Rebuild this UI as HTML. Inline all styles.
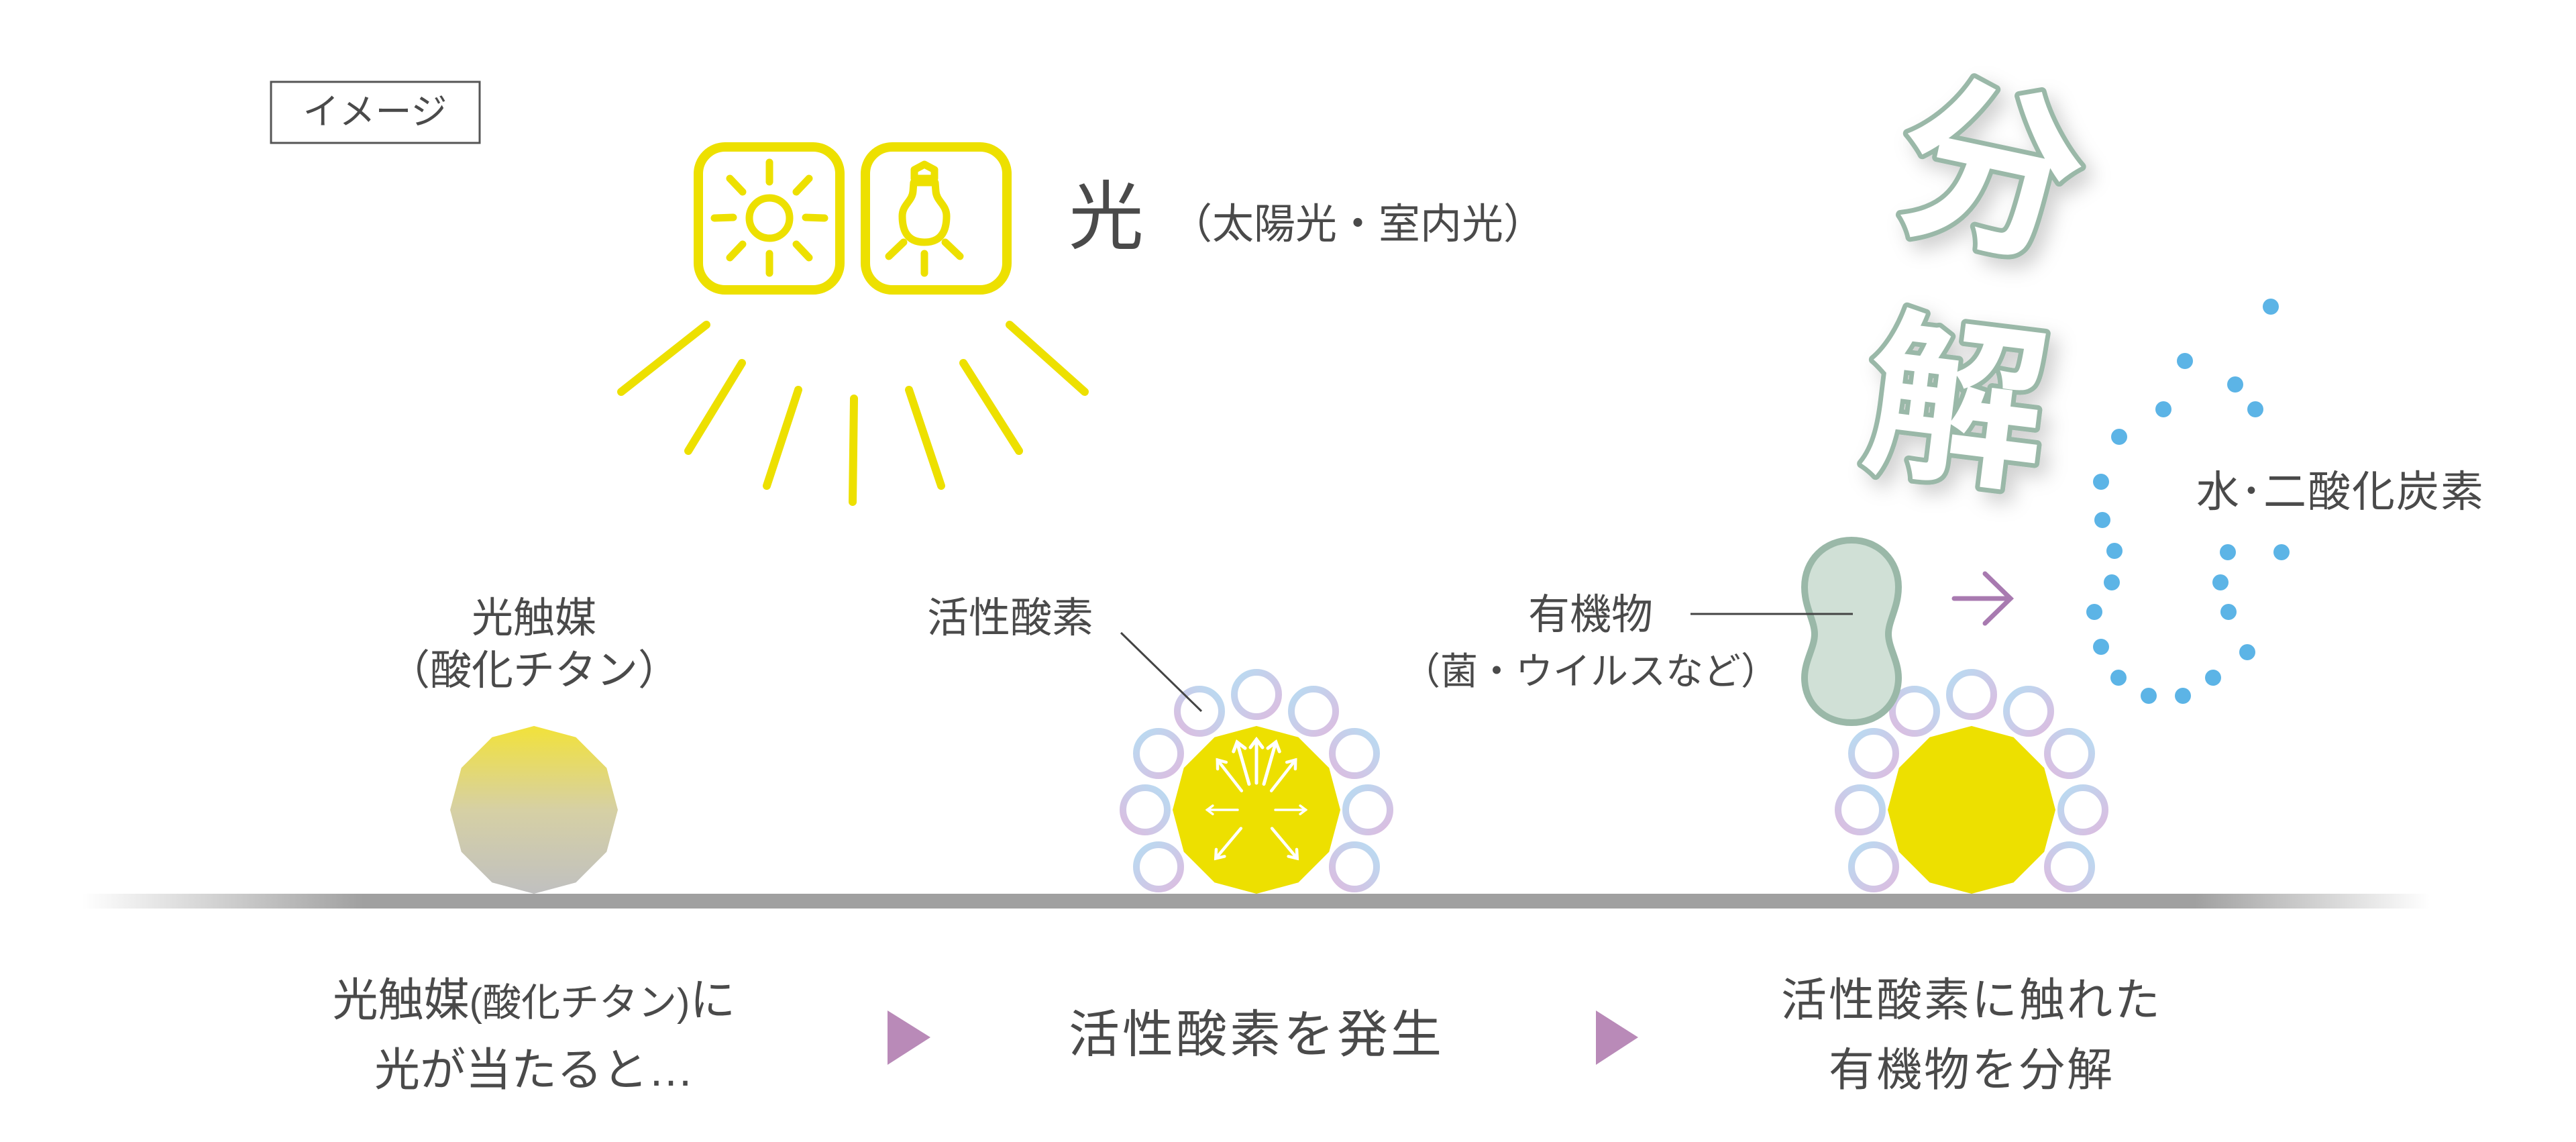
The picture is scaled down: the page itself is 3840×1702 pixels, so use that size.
<!DOCTYPE html>
<html><head><meta charset="utf-8"><style>
html,body{margin:0;padding:0;background:#fff;}
svg{display:block;}
text{font-family:"Liberation Sans","Noto Sans CJK JP",sans-serif;fill:#4a4a4a;}
</style></head><body>
<svg width="3840" height="1702" viewBox="0 0 3840 1702" xmlns="http://www.w3.org/2000/svg">
<defs>
<linearGradient id="ground" x1="0" x2="1" y1="0" y2="0">
<stop offset="0" stop-color="#a0a0a0" stop-opacity="0"/>
<stop offset="0.12" stop-color="#a0a0a0"/>
<stop offset="0.9" stop-color="#a0a0a0"/>
<stop offset="1" stop-color="#a0a0a0" stop-opacity="0"/>
</linearGradient>
<linearGradient id="gem1" x1="0" x2="0" y1="0" y2="1">
<stop offset="0" stop-color="#f2e23a"/>
<stop offset="0.5" stop-color="#d6d0a4"/>
<stop offset="1" stop-color="#c0c0c0"/>
</linearGradient>
<linearGradient id="ring" x1="0" x2="1" y1="0" y2="1">
<stop offset="0" stop-color="#b8dcf2"/>
<stop offset="1" stop-color="#dcbce0"/>
</linearGradient>
<linearGradient id="ring2" x1="1" x2="0" y1="0" y2="1">
<stop offset="0" stop-color="#b8dcf2"/>
<stop offset="1" stop-color="#dcbce0"/>
</linearGradient>
<filter id="sh" x="-20%" y="-20%" width="140%" height="140%"><feDropShadow dx="12" dy="14" stdDeviation="14" flood-color="#000" flood-opacity="0.18"/></filter>
<g id="rings">
<circle cx="0" cy="-172" r="33" fill="none" stroke="url(#ring)" stroke-width="10"/>
<circle cx="-85" cy="-147" r="33" fill="none" stroke="url(#ring2)" stroke-width="10"/>
<circle cx="85" cy="-147" r="33" fill="none" stroke="url(#ring)" stroke-width="10"/>
<circle cx="-146" cy="-84" r="33" fill="none" stroke="url(#ring)" stroke-width="10"/>
<circle cx="146" cy="-84" r="33" fill="none" stroke="url(#ring2)" stroke-width="10"/>
<circle cx="-166" cy="0" r="33" fill="none" stroke="url(#ring2)" stroke-width="10"/>
<circle cx="166" cy="0" r="33" fill="none" stroke="url(#ring)" stroke-width="10"/>
<circle cx="-146" cy="85" r="33" fill="none" stroke="url(#ring)" stroke-width="10"/>
<circle cx="146" cy="85" r="33" fill="none" stroke="url(#ring2)" stroke-width="10"/>
</g>
<polygon id="gem" points="0,-125 62.5,-108.3 108.3,-62.5 125,0 108.3,62.5 62.5,108.3 0,125 -62.5,108.3 -108.3,62.5 -125,0 -108.3,-62.5 -62.5,-108.3"/>
</defs>

<rect x="404" y="122" width="311" height="91" fill="#fff" stroke="#555" stroke-width="3"/>
<text x="559" y="185" font-size="54" text-anchor="middle">イメージ</text>

<g fill="none" stroke="#ede000" stroke-linecap="round" stroke-linejoin="round">
<rect x="1041" y="219" width="211" height="213" rx="40" stroke-width="14"/>
<rect x="1290" y="219" width="211" height="213" rx="40" stroke-width="14"/>
<circle cx="1147" cy="325" r="30" stroke-width="11"/>
<g stroke-width="11">
<line x1="1147" y1="242" x2="1147" y2="271"/><line x1="1147" y1="378" x2="1147" y2="407"/>
<line x1="1065" y1="325" x2="1093" y2="324"/><line x1="1201" y1="324" x2="1229" y2="325"/>
<line x1="1088" y1="266" x2="1107" y2="286"/><line x1="1206" y1="266" x2="1187" y2="286"/>
<line x1="1088" y1="384" x2="1107" y2="364"/><line x1="1206" y1="384" x2="1187" y2="364"/>
<line x1="1378" y1="378" x2="1378" y2="407"/><line x1="1325" y1="382" x2="1347" y2="361"/><line x1="1431" y1="382" x2="1409" y2="361"/>
<path d="M1378 361 C1350 361 1345 340 1345 322 C1345 305 1360 300 1361 285 L1362 272 L1394 272 L1395 285 C1396 300 1411 305 1411 322 C1411 340 1406 361 1378 361 Z"/>
<path d="M1363 266 L1363 253 L1378 245 L1393 253 L1393 266 Z"/>
</g>
</g>
<text x="1593" y="362" font-size="112">光</text>
<text x="1745" y="355" font-size="62">（太陽光・室内光）</text>

<g stroke="#ede000" stroke-width="12" stroke-linecap="round">
<line x1="1053" y1="484" x2="926" y2="584"/>
<line x1="1106" y1="541" x2="1026" y2="672"/>
<line x1="1190" y1="581" x2="1143" y2="724"/>
<line x1="1273" y1="594" x2="1271" y2="748"/>
<line x1="1355" y1="581" x2="1403" y2="724"/>
<line x1="1436" y1="541" x2="1519" y2="672"/>
<line x1="1505" y1="484" x2="1617" y2="584"/>
</g>

<rect x="122" y="1332" width="3500" height="22" fill="url(#ground)"/>

<use href="#gem" transform="translate(796,1207)" fill="url(#gem1)"/>
<text x="796" y="942" font-size="62" text-anchor="middle">光触媒</text>
<text x="796" y="1020" font-size="62" text-anchor="middle">（酸化チタン）</text>

<use href="#rings" transform="translate(1873,1207)"/>
<use href="#gem" transform="translate(1873,1207)" fill="#ede000"/>
<g stroke="#fff" stroke-width="5" fill="none" stroke-linecap="round" transform="translate(1873,1207)">
<g id="ar"><line x1="0" y1="-40" x2="0" y2="-105"/><polyline points="-9,-93 0,-105 9,-93"/></g>
<use href="#ar" transform="rotate(-16)"/><use href="#ar" transform="rotate(16)"/>
<use href="#ar" transform="rotate(-38) scale(0.9)"/><use href="#ar" transform="rotate(38) scale(0.9)"/>
<use href="#ar" transform="rotate(-90) scale(0.7)"/><use href="#ar" transform="rotate(90) scale(0.7)"/>
<use href="#ar" transform="rotate(-140) scale(0.9)"/><use href="#ar" transform="rotate(140) scale(0.9)"/>
</g>
<text x="1506" y="942" font-size="62" text-anchor="middle">活性酸素</text>
<line x1="1671" y1="943" x2="1791" y2="1060" stroke="#444" stroke-width="3"/>

<use href="#rings" transform="translate(2939,1207)"/>
<use href="#gem" transform="translate(2939,1207)" fill="#ede000"/>
<path d="M2760 805 C2720 805 2690 835 2690 875 C2690 905 2705 925 2705 945 C2705 965 2690 985 2690 1010 C2690 1050 2720 1077 2760 1077 C2800 1077 2830 1050 2830 1010 C2830 985 2815 965 2815 945 C2815 925 2830 905 2830 875 C2830 835 2800 805 2760 805 Z" fill="#d0e0d6" stroke="#9ab8a8" stroke-width="10"/>
<text x="2371" y="937" font-size="62" text-anchor="middle">有機物</text>
<line x1="2520" y1="915" x2="2762" y2="915" stroke="#444" stroke-width="3"/>
<text x="2371" y="1020" font-size="56" text-anchor="middle">（菌・ウイルスなど）</text>

<g stroke="#a87ab0" stroke-width="7" fill="none" stroke-linecap="round">
<line x1="2913" y1="892" x2="2997" y2="892"/>
<polyline points="2959,855 2997,892 2959,929"/>
</g>

<g fill="#5cb4e6">
<circle cx="3385" cy="457" r="12"/><circle cx="3257" cy="538" r="12"/><circle cx="3332" cy="573" r="12"/>
<circle cx="3225" cy="610" r="12"/><circle cx="3362" cy="610" r="12"/><circle cx="3159" cy="651" r="12"/>
<circle cx="3132" cy="718" r="12"/><circle cx="3134" cy="775" r="12"/><circle cx="3152" cy="821" r="12"/>
<circle cx="3321" cy="823" r="12"/><circle cx="3401" cy="823" r="12"/><circle cx="3148" cy="868" r="12"/>
<circle cx="3310" cy="868" r="12"/><circle cx="3122" cy="912" r="12"/><circle cx="3322" cy="912" r="12"/>
<circle cx="3132" cy="964" r="12"/><circle cx="3350" cy="972" r="12"/><circle cx="3158" cy="1010" r="12"/>
<circle cx="3299" cy="1010" r="12"/><circle cx="3203" cy="1037" r="12"/><circle cx="3254" cy="1037" r="12"/>
</g>
<text x="3274" y="755" font-size="64" letter-spacing="2">水･二酸化炭素</text>

<g filter="url(#sh)" font-size="270" font-weight="bold" style="paint-order:stroke fill" stroke="#9ab8a8" stroke-width="14" stroke-linejoin="round">
<text x="0" y="0" transform="translate(2815,320) rotate(12)" style="fill:#fff">分</text>
<text x="0" y="0" transform="translate(2770,680) rotate(7)" style="fill:#fff">解</text>
</g>

<text x="796" y="1514" font-size="68" text-anchor="middle">光触媒<tspan font-size="58">(酸化チタン)</tspan>に</text>
<text x="796" y="1618" font-size="68" text-anchor="middle">光が当たると…</text>
<polygon points="1323,1506 1387,1546 1323,1587" fill="#b98ab8"/>
<text x="1873" y="1568" font-size="76" text-anchor="middle" letter-spacing="4">活性酸素を発生</text>
<polygon points="2379,1506 2442,1546 2379,1587" fill="#b98ab8"/>
<text x="2939" y="1514" font-size="68" text-anchor="middle" letter-spacing="3">活性酸素に触れた</text>
<text x="2939" y="1618" font-size="68" text-anchor="middle" letter-spacing="3">有機物を分解</text>
</svg>
</body></html>
